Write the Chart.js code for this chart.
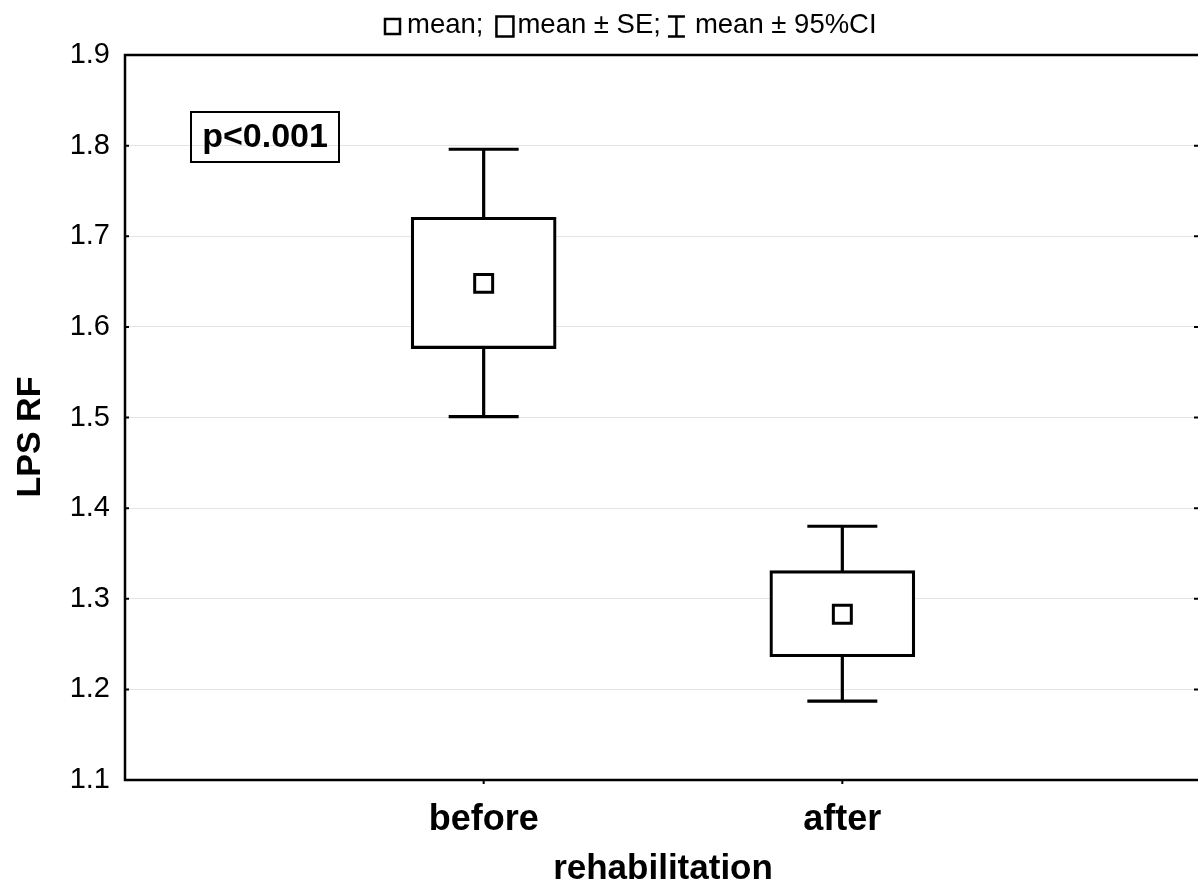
<!DOCTYPE html>
<html><head><meta charset="utf-8">
<script src="https://cdn.jsdelivr.net/npm/chart.js@4.4.1/dist/chart.umd.min.js"></script>
<style>
html,body{margin:0;padding:0;background:#fff;overflow:hidden;width:1198px;height:886px}
#wrap{width:1203px;height:886px;position:relative}
</style></head>
<body><div id="wrap"><canvas id="c" width="1203" height="886"></canvas></div>
<script>
const categories = ['before', 'after'];
const meanValues = [1.648, 1.283];
const seLow = [1.576, 1.236];
const seHigh = [1.721, 1.331];
const ciLow = [1.501, 1.187];
const ciHigh = [1.796, 1.380];
const yTickValues = [1.1, 1.2, 1.3, 1.4, 1.5, 1.6, 1.7, 1.8, 1.9];
const pValueLabel = 'p<0.001';
const legendTexts = ['mean;', 'mean \u00B1 SE;', 'mean \u00B1 95%CI'];
const yTitle = 'LPS RF';
const xTitle = 'rehabilitation';

const FONT = "'Liberation Sans', Arial, Helvetica, sans-serif";

const decor = {
  id: 'decor',
  beforeDatasetsDraw(chart) {
    const ctx = chart.ctx, xs = chart.scales.x, ys = chart.scales.y;
    ctx.save();
    ctx.strokeStyle = '#000';
    ctx.lineWidth = 3.2;
    ctx.lineCap = 'butt';
    categories.forEach((c, i) => {
      const x = xs.getPixelForValue(i + 1);
      const yt = ys.getPixelForValue(ciHigh[i]);
      const yb = ys.getPixelForValue(ciLow[i]);
      ctx.beginPath();
      ctx.moveTo(x, yt); ctx.lineTo(x, yb);
      ctx.moveTo(x - 35, yt); ctx.lineTo(x + 35, yt);
      ctx.moveTo(x - 35, yb); ctx.lineTo(x + 35, yb);
      ctx.stroke();
    });
    ctx.restore();
  },
  afterDraw(chart) {
    const ctx = chart.ctx, a = chart.chartArea, xs = chart.scales.x, ys = chart.scales.y;
    ctx.save();
    // frame
    ctx.strokeStyle = '#000';
    ctx.lineWidth = 2.5;
    ctx.strokeRect(a.left, a.top, a.right - a.left, a.bottom - a.top);
    ctx.lineWidth = 2;
    ctx.beginPath();
    yTickValues.forEach(v => {
      const y = ys.getPixelForValue(v);
      ctx.moveTo(a.left, y); ctx.lineTo(a.left + 4, y);
      ctx.moveTo(a.right, y); ctx.lineTo(a.right - 7, y);
    });
    categories.forEach((c, i) => {
      const x = xs.getPixelForValue(i + 1);
      ctx.moveTo(x, a.bottom); ctx.lineTo(x, a.bottom + 4);
    });
    ctx.stroke();

    // legend
    ctx.fillStyle = '#000';
    ctx.font = '27.5px ' + FONT;
    ctx.textBaseline = 'alphabetic';
    ctx.textAlign = 'left';
    const base = 33;
    let x = 384;
    ctx.lineWidth = 2.5;
    ctx.strokeRect(x + 1, 19, 15, 15);
    x += 23;
    ctx.fillText(legendTexts[0], x, base);
    x += ctx.measureText(legendTexts[0]).width + 12;
    ctx.strokeRect(x + 1, 16.5, 17, 20);
    x += 22;
    ctx.fillText(legendTexts[1], x, base);
    x += ctx.measureText(legendTexts[1]).width + 7;
    ctx.beginPath();
    ctx.moveTo(x, 16.5); ctx.lineTo(x + 17, 16.5);
    ctx.moveTo(x, 36.5); ctx.lineTo(x + 17, 36.5);
    ctx.moveTo(x + 8.5, 16.5); ctx.lineTo(x + 8.5, 36.5);
    ctx.stroke();
    x += 27;
    ctx.fillText(legendTexts[2], x, base);

    // p-value box
    ctx.lineWidth = 2;
    ctx.strokeRect(191, 112, 148, 50);
    ctx.font = 'bold 34px ' + FONT;
    ctx.textAlign = 'center';
    ctx.textBaseline = 'middle';
    ctx.fillText(pValueLabel, 265, 138);

    // y title
    ctx.translate(31, 437);
    ctx.rotate(-Math.PI / 2);
    ctx.font = 'bold 34px ' + FONT;
    ctx.fillText(yTitle, 0, 0);
    ctx.restore();
  }
};

const chart = new Chart(document.getElementById('c'), {
  type: 'bar',
  data: {
    datasets: [
      {
        type: 'scatter',
        label: 'mean',
        data: categories.map((c, i) => ({ x: i + 1, y: meanValues[i] })),
        pointStyle: 'rect',
        pointRadius: 12.7,
        pointBorderWidth: 3,
        pointBackgroundColor: '#fff',
        pointBorderColor: '#000',
        order: 0
      },
      {
        type: 'bar',
        label: 'mean ± SE',
        data: categories.map((c, i) => ({ x: i + 1, y: [seLow[i], seHigh[i]] })),
        backgroundColor: '#fff',
        borderColor: '#000',
        borderWidth: 3.2,
        borderSkipped: false,
        barThickness: 145,
        order: 1
      }
    ]
  },
  options: {
    responsive: false,
    animation: false,
    layout: { autoPadding: false, padding: { top: 55, right: 2, left: 0, bottom: 0 } },
    plugins: { legend: { display: false }, tooltip: { enabled: false } },
    scales: {
      x: {
        type: 'linear',
        offset: false,
        min: 0, max: 3,
        afterBuildTicks: s => { s.ticks = categories.map((c, i) => ({ value: i + 1 })); },
        afterFit: s => { s.height = 106; },
        grid: { display: false, drawTicks: false },
        border: { display: false },
        ticks: {
          autoSkip: false, maxRotation: 0, padding: 18,
          color: '#000',
          font: { family: FONT, size: 36, weight: 'bold' },
          callback: v => categories[v - 1]
        },
        title: {
          display: true, text: xTitle, color: '#000',
          font: { family: FONT, size: 35, weight: 'bold' },
          padding: { top: 0, bottom: -4 }
        }
      },
      y: {
        min: 1.1, max: 1.9,
        afterBuildTicks: s => { s.ticks = yTickValues.map(v => ({ value: v })); },
        afterFit: s => { s.width = 125; },
        grid: { color: '#e4e4e4', lineWidth: 1, drawTicks: false },
        border: { display: false },
        ticks: {
          padding: 15, color: '#000',
          font: { family: FONT, size: 29 },
          callback: v => Number(v).toFixed(1)
        }
      }
    }
  },
  plugins: [decor]
});
</script>
</body></html>
